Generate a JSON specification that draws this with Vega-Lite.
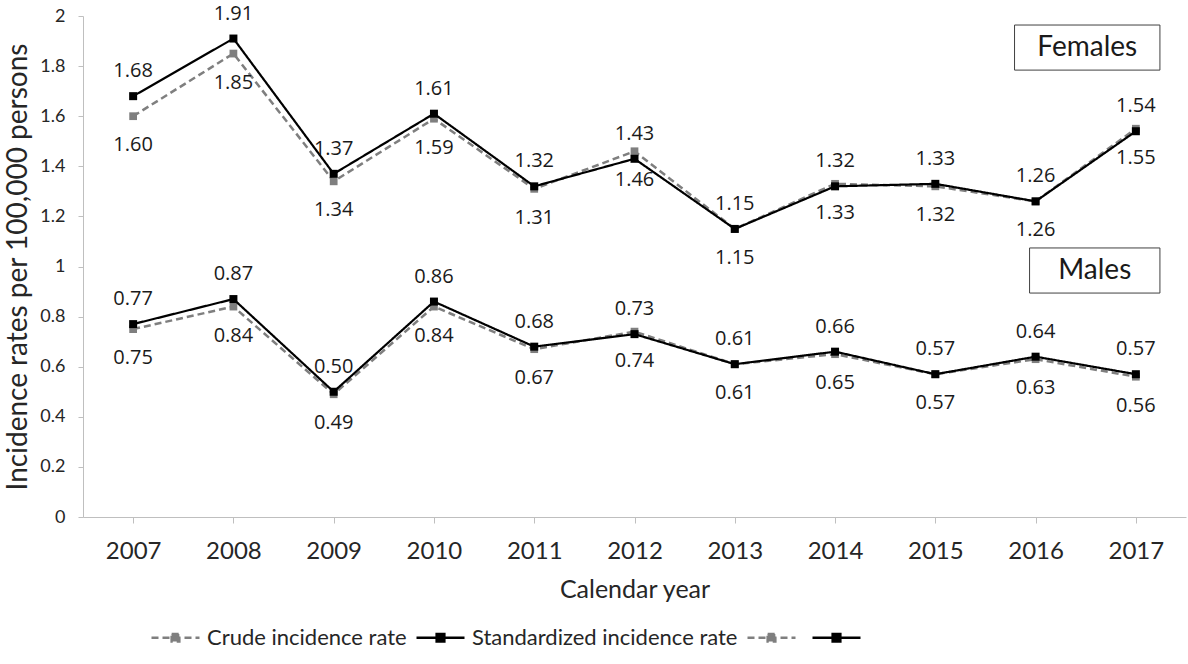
{
  "$schema": "https://vega.github.io/schema/vega-lite/v6.json",
  "width": 1103,
  "height": 501,
  "autosize": {"type": "none"},
  "padding": {"left": 83, "top": 16, "right": 2, "bottom": 147},
  "background": "white",
  "config": {
    "view": {"stroke": null},
    "font": "Lato",
    "axis": {"grid": false, "domainColor": "#bfbfbf", "tickColor": "#bfbfbf", "labelColor": "#262626", "titleColor": "#262626", "titleFontWeight": "normal"}
  },
  "datasets": {
    "rates": [
      {"year": 2007, "series": "crude_f", "measure": "crude", "value": 1.60},
      {"year": 2008, "series": "crude_f", "measure": "crude", "value": 1.85},
      {"year": 2009, "series": "crude_f", "measure": "crude", "value": 1.34},
      {"year": 2010, "series": "crude_f", "measure": "crude", "value": 1.59},
      {"year": 2011, "series": "crude_f", "measure": "crude", "value": 1.31},
      {"year": 2012, "series": "crude_f", "measure": "crude", "value": 1.46},
      {"year": 2013, "series": "crude_f", "measure": "crude", "value": 1.15},
      {"year": 2014, "series": "crude_f", "measure": "crude", "value": 1.33},
      {"year": 2015, "series": "crude_f", "measure": "crude", "value": 1.32},
      {"year": 2016, "series": "crude_f", "measure": "crude", "value": 1.26},
      {"year": 2017, "series": "crude_f", "measure": "crude", "value": 1.55},
      {"year": 2007, "series": "std_f", "measure": "std", "value": 1.68},
      {"year": 2008, "series": "std_f", "measure": "std", "value": 1.91},
      {"year": 2009, "series": "std_f", "measure": "std", "value": 1.37},
      {"year": 2010, "series": "std_f", "measure": "std", "value": 1.61},
      {"year": 2011, "series": "std_f", "measure": "std", "value": 1.32},
      {"year": 2012, "series": "std_f", "measure": "std", "value": 1.43},
      {"year": 2013, "series": "std_f", "measure": "std", "value": 1.15},
      {"year": 2014, "series": "std_f", "measure": "std", "value": 1.32},
      {"year": 2015, "series": "std_f", "measure": "std", "value": 1.33},
      {"year": 2016, "series": "std_f", "measure": "std", "value": 1.26},
      {"year": 2017, "series": "std_f", "measure": "std", "value": 1.54},
      {"year": 2007, "series": "crude_m", "measure": "crude", "value": 0.75},
      {"year": 2008, "series": "crude_m", "measure": "crude", "value": 0.84},
      {"year": 2009, "series": "crude_m", "measure": "crude", "value": 0.49},
      {"year": 2010, "series": "crude_m", "measure": "crude", "value": 0.84},
      {"year": 2011, "series": "crude_m", "measure": "crude", "value": 0.67},
      {"year": 2012, "series": "crude_m", "measure": "crude", "value": 0.74},
      {"year": 2013, "series": "crude_m", "measure": "crude", "value": 0.61},
      {"year": 2014, "series": "crude_m", "measure": "crude", "value": 0.65},
      {"year": 2015, "series": "crude_m", "measure": "crude", "value": 0.57},
      {"year": 2016, "series": "crude_m", "measure": "crude", "value": 0.63},
      {"year": 2017, "series": "crude_m", "measure": "crude", "value": 0.56},
      {"year": 2007, "series": "std_m", "measure": "std", "value": 0.77},
      {"year": 2008, "series": "std_m", "measure": "std", "value": 0.87},
      {"year": 2009, "series": "std_m", "measure": "std", "value": 0.50},
      {"year": 2010, "series": "std_m", "measure": "std", "value": 0.86},
      {"year": 2011, "series": "std_m", "measure": "std", "value": 0.68},
      {"year": 2012, "series": "std_m", "measure": "std", "value": 0.73},
      {"year": 2013, "series": "std_m", "measure": "std", "value": 0.61},
      {"year": 2014, "series": "std_m", "measure": "std", "value": 0.66},
      {"year": 2015, "series": "std_m", "measure": "std", "value": 0.57},
      {"year": 2016, "series": "std_m", "measure": "std", "value": 0.64},
      {"year": 2017, "series": "std_m", "measure": "std", "value": 0.57}
    ],
    "boxes": [
      {"label": "Females", "x1": 2015.79, "x2": 2017.24, "y1": 1.784, "y2": 1.964, "xc": 2016.515, "yc": 1.874},
      {"label": "Males", "x1": 2015.94, "x2": 2017.24, "y1": 0.894, "y2": 1.074, "xc": 2016.59, "yc": 0.984}
    ]
  },
  "layer": [
    {
      "data": {"name": "rates"},
      "transform": [{"filter": "datum.measure == 'crude'"}],
      "mark": {"type": "line", "strokeWidth": 2.5},
      "encoding": {
        "x": {"field": "year", "type": "quantitative", "scale": {"domain": [2006.5, 2017.5], "nice": false, "zero": false},
          "axis": {"values": [2007, 2008, 2009, 2010, 2011, 2012, 2013, 2014, 2015, 2016, 2017], "format": "d", "tickSize": 6, "labelFontSize": 24, "labelPadding": 16, "title": "Calendar year", "titleFontSize": 25, "titlePadding": 14}},
        "y": {"field": "value", "type": "quantitative", "scale": {"domain": [0, 2], "nice": false},
          "axis": {"values": [0, 0.2, 0.4, 0.6, 0.8, 1, 1.2, 1.4, 1.6, 1.8, 2], "format": "~g", "tickSize": 5, "labelFontSize": 18, "labelPadding": 13, "title": "Incidence rates per 100,000 persons", "titleFontSize": 28, "titlePadding": 7}},
        "color": {"field": "series", "type": "nominal",
          "scale": {"domain": ["crude_f", "std_f", "crude_m", "std_m"], "range": ["#7f7f7f", "#000000", "#7f7f7f", "#000000"]},
          "legend": {"orient": "none", "legendX": 67, "legendY": 596, "direction": "horizontal", "columns": 4, "title": null,
            "labelExpr": "datum.value == 'crude_f' ? 'Crude incidence rate' : datum.value == 'std_f' ? 'Standardized incidence rate' : ''",
            "labelFontSize": 22, "labelLimit": 400, "labelColor": "#262626", "symbolType": "M-1,0H1M-0.16,-0.16H0.16V0.16H-0.16Z", "symbolSize": 2304, "symbolStrokeWidth": 2.5, "columnPadding": 4, "labelOffset": 6}},
        "strokeDash": {"field": "series", "type": "nominal",
          "scale": {"domain": ["crude_f", "std_f", "crude_m", "std_m"], "range": [[7, 4], [1, 0], [7, 4], [1, 0]]}},
        "detail": {"field": "series"}
      }
    },
    {
      "data": {"name": "rates"},
      "transform": [{"filter": "datum.measure == 'crude'"}],
      "mark": {"type": "point", "shape": "square", "filled": true, "size": 60, "opacity": 1},
      "encoding": {
        "x": {"field": "year", "type": "quantitative"},
        "y": {"field": "value", "type": "quantitative"},
        "color": {"field": "series", "type": "nominal"}
      }
    },
    {
      "data": {"name": "rates"},
      "transform": [{"filter": "datum.measure == 'std'"}],
      "mark": {"type": "line", "strokeWidth": 2.2},
      "encoding": {
        "x": {"field": "year", "type": "quantitative"},
        "y": {"field": "value", "type": "quantitative"},
        "color": {"field": "series", "type": "nominal"},
        "strokeDash": {"field": "series", "type": "nominal"},
        "detail": {"field": "series"}
      }
    },
    {
      "data": {"name": "rates"},
      "transform": [{"filter": "datum.measure == 'std'"}],
      "mark": {"type": "point", "shape": "square", "filled": true, "size": 64, "opacity": 1},
      "encoding": {
        "x": {"field": "year", "type": "quantitative"},
        "y": {"field": "value", "type": "quantitative"},
        "color": {"field": "series", "type": "nominal"}
      }
    },
    {
      "data": {"name": "rates"},
      "transform": [{"filter": "datum.measure == 'std'"}],
      "mark": {"type": "text", "font": "Open Sans", "fontSize": 20, "dy": -25, "color": "#1a1a1a"},
      "encoding": {
        "x": {"field": "year", "type": "quantitative"},
        "y": {"field": "value", "type": "quantitative"},
        "text": {"field": "value", "type": "quantitative", "format": ".2f"}
      }
    },
    {
      "data": {"name": "rates"},
      "transform": [{"filter": "datum.measure == 'crude'"}],
      "mark": {"type": "text", "font": "Open Sans", "fontSize": 20, "dy": 29, "color": "#1a1a1a"},
      "encoding": {
        "x": {"field": "year", "type": "quantitative"},
        "y": {"field": "value", "type": "quantitative"},
        "text": {"field": "value", "type": "quantitative", "format": ".2f"}
      }
    },
    {
      "data": {"name": "boxes"},
      "mark": {"type": "rect", "fill": "white", "stroke": "#404040", "strokeWidth": 1},
      "encoding": {
        "x": {"field": "x1", "type": "quantitative"},
        "x2": {"field": "x2"},
        "y": {"field": "y1", "type": "quantitative"},
        "y2": {"field": "y2"}
      }
    },
    {
      "data": {"name": "boxes"},
      "mark": {"type": "text", "font": "Lato", "fontSize": 28, "color": "#1a1a1a", "baseline": "middle"},
      "encoding": {
        "x": {"field": "xc", "type": "quantitative"},
        "y": {"field": "yc", "type": "quantitative"},
        "text": {"field": "label"}
      }
    }
  ]
}
